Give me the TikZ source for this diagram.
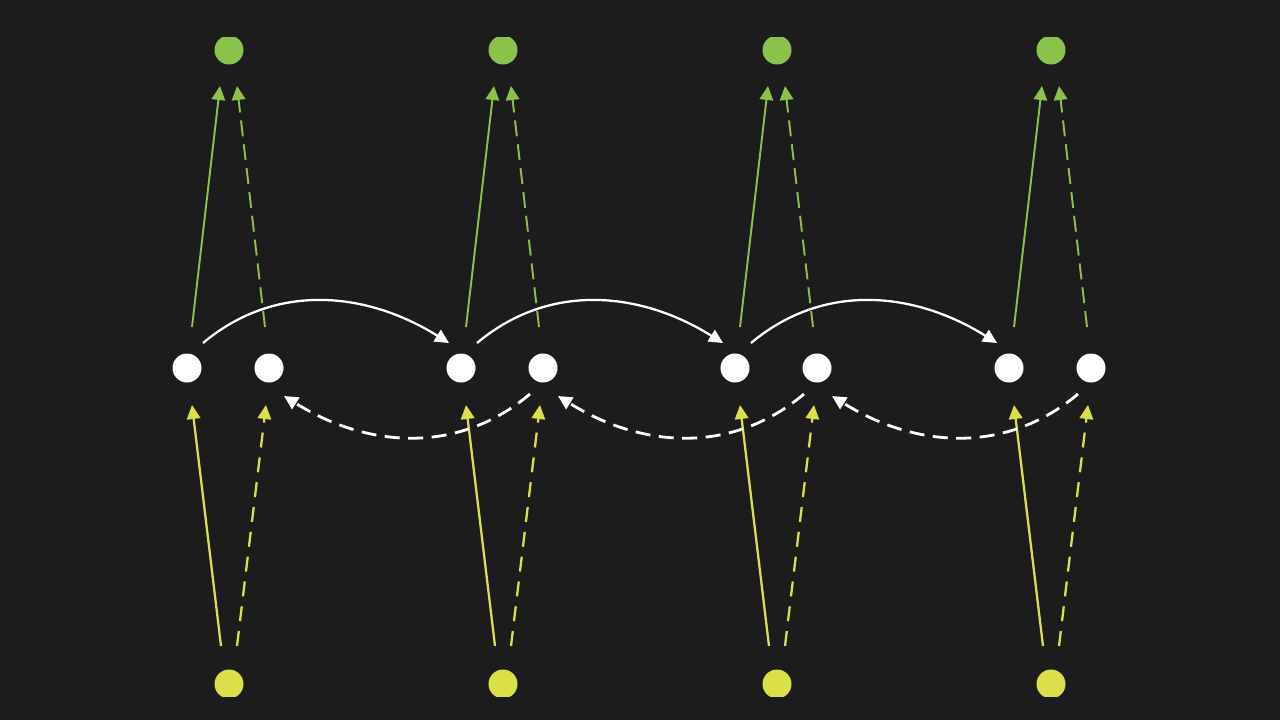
\documentclass[tikz,border=0pt]{standalone}
\usetikzlibrary{arrows.meta}
\definecolor{bg}{HTML}{1C1C1C}
\definecolor{leaf}{HTML}{8BC34A}
\definecolor{lemon}{HTML}{DCE048}
\tikzset{
  dot/.style={circle, inner sep=0pt, minimum size=0.58cm},
  whitedot/.style={dot, fill=white},
  topdot/.style={dot, fill=leaf},
  botdot/.style={dot, fill=lemon},
  tip/.style={-{Triangle[length=0.28cm,width=0.27cm]}},
  gsolid/.style={tip, draw=leaf, line width=1.1pt},
  gdash/.style={gsolid, dash pattern=on 0.32cm off 0.16cm},
  ysolid/.style={tip, draw=lemon, line width=1.3pt},
  ydash/.style={ysolid, dash pattern=on 0.3cm off 0.2cm},
  wsolid/.style={tip, draw=white, line width=1.3pt},
  wdash/.style={wsolid, line width=1.6pt, dash pattern=on 0.3cm off 0.17cm},
}
\begin{document}
\begin{tikzpicture}[x=0.02cm, y=-0.02cm]
\useasboundingbox (0,0) rectangle (1280,720);
\fill[bg] (0,0) rectangle (1280,720);
\begin{scope}
\clip (0,37) rectangle (1280,696);
\foreach \i in {0,1,2,3}{
  \pgfmathsetmacro\dx{274*\i}
  \node[topdot] (T\i) at (229+\dx,50) {};
  \node[botdot] (Y\i) at (229+\dx,684) {};
  \node[whitedot] (A\i) at (187+\dx,368) {};
  \node[whitedot] (B\i) at (269+\dx,368) {};
}
\end{scope}
\foreach \i in {0,1,2,3}{
  \draw[gsolid] ([shift={(5,-41)}]A\i.center) -- ([shift={(-9,36)}]T\i.center);
  \draw[gdash]  ([shift={(-4,-41)}]B\i.center) -- ([shift={(8,36)}]T\i.center);
  \draw[ysolid] ([shift={(-8,-38)}]Y\i.center) -- ([shift={(5,37)}]A\i.center);
  \draw[ydash]  ([shift={(8,-38)}]Y\i.center) -- ([shift={(-3,37)}]B\i.center);
}
\foreach \i/\j in {0/1,1/2,2/3}{
  \draw[wsolid] ([shift={(16,-25)}]A\i.center) to[out=40,in=148] ([shift={(-12,-25)}]A\j.center);
  \draw[wdash]  ([shift={(-13,26)}]B\j.center) to[out=-140,in=-32] ([shift={(15,28)}]B\i.center);
}
\end{tikzpicture}
\end{document}
